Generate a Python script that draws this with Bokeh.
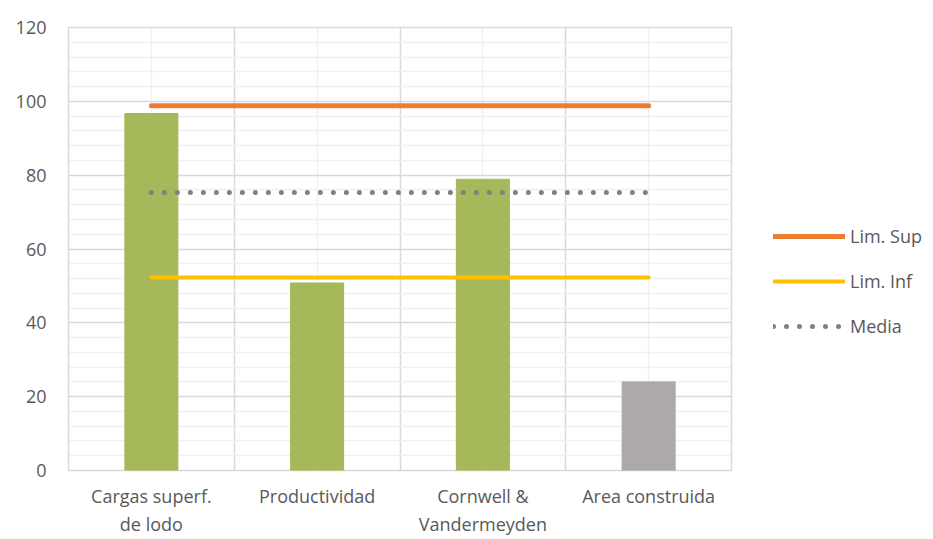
from bokeh.plotting import figure
from bokeh.layouts import row
from bokeh.models import FixedTicker, Legend, LegendItem, Range1d, ColumnDataSource
from bokeh.embed import file_html
from bokeh.resources import INLINE

# ---- data ----
categories = ["Cargas superf.\nde lodo", "Productividad", "Cornwell &\nVandermeyden", "Area construida"]
values = [96.7, 50.8, 78.9, 24.0]
bar_colors = ["#A5B95A", "#A5B95A", "#A5B95A", "#ADA9A8"]
lim_sup = 98.8
lim_inf = 52.3
media = 75.3
series_names = ["Lim. Sup", "Lim. Inf", "Media"]
y_ticks = [0, 20, 40, 60, 80, 100, 120]
y_minor = [v for v in range(0, 121, 4) if v % 20 != 0]

xs = [i + 0.5 for i in range(len(categories))]
src = ColumnDataSource(dict(x=xs, top=values, color=bar_colors))

FONT = "Open Sans"
TXT = "#595959"
FS = "18px"
styles = [dict(line_color="#ED7D31", line_width=5, line_cap="round"),
          dict(line_color="#FFC000", line_width=4, line_cap="round"),
          dict(line_color="#808080", line_width=5, line_cap="round", line_dash="0 13")]

p = figure(width=733, height=539, output_backend="svg", toolbar_location=None,
           x_range=Range1d(0, len(categories)), y_range=Range1d(0, 120),
           min_border_left=68, min_border_top=27, min_border_bottom=68, min_border_right=2)

p.vbar(x="x", top="top", width=0.32, color="color", source=src)

line_x = [xs[0], xs[-1]]
for val, st in zip([lim_sup, lim_inf, media], styles):
    p.line(line_x, [val, val], **st)

# axes
p.yaxis.ticker = FixedTicker(ticks=y_ticks)
p.xaxis.ticker = FixedTicker(ticks=xs)
p.xaxis.major_label_overrides = {x: c for x, c in zip(xs, categories)}
for ax in (p.xaxis[0], p.yaxis[0]):
    ax.axis_line_color = None
    ax.major_tick_line_color = None
    ax.minor_tick_line_color = None
    ax.major_label_text_font = FONT
    ax.major_label_text_font_size = FS
    ax.major_label_text_color = TXT
p.yaxis.major_label_standoff = 16
p.xaxis.major_label_standoff = 7

# grids
p.ygrid.ticker = FixedTicker(ticks=y_ticks, minor_ticks=y_minor)
p.ygrid.grid_line_color = "#D9D9D9"
p.ygrid.grid_line_width = 1.5
p.ygrid.minor_grid_line_color = "#F0F0F0"
p.ygrid.minor_grid_line_width = 1.5
p.xgrid.ticker = FixedTicker(ticks=[0, 1, 2, 3, 4], minor_ticks=xs)
p.xgrid.grid_line_color = "#D9D9D9"
p.xgrid.grid_line_width = 1.5
p.xgrid.minor_grid_line_color = "#F0F0F0"
p.xgrid.minor_grid_line_width = 1.5
p.outline_line_color = "#D9D9D9"
p.outline_line_width = 1.5

# legend in a side figure (its series lie outside this figure's visible range)
q = figure(width=200, height=539, output_backend="svg", toolbar_location=None,
           x_range=Range1d(0, 1), y_range=Range1d(0, 1),
           min_border=0, outline_line_color=None)
q.axis.visible = False
q.grid.visible = False
items = []
for name, val, st in zip(series_names, [lim_sup, lim_inf, media], styles):
    r = q.line(line_x, [val, val], **st)
    items.append(LegendItem(label=name, renderers=[r]))
legend = Legend(items=items, location=(40, 132), border_line_color=None,
                background_fill_alpha=0,
                glyph_width=72, glyph_height=20, label_height=20, spacing=21,
                label_standoff=5, padding=0, margin=0,
                label_text_font=FONT, label_text_font_size=FS, label_text_color=TXT)
q.add_layout(legend)

layout = row(p, q, spacing=0)
open("out.html", "w").write(file_html(layout, INLINE))
